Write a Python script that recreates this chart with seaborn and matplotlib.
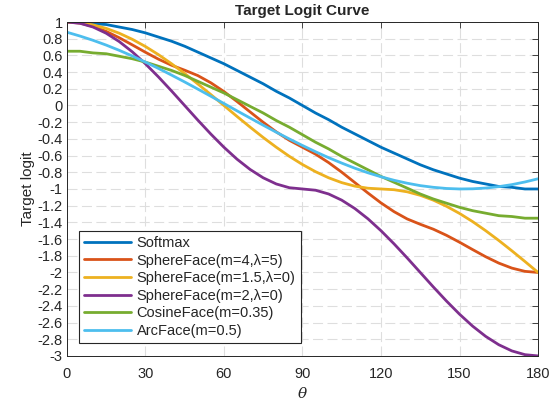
import seaborn as sns
import matplotlib.pyplot as plt
import pandas as pd
from matplotlib.ticker import MultipleLocator, FuncFormatter

theta = list(range(0, 181, 5))

softmax = [1.00, 1.00, 0.98, 0.97, 0.94, 0.91, 0.87, 0.82, 0.77, 0.71, 0.64, 0.57, 0.50,
           0.42, 0.34, 0.26, 0.17, 0.09, 0.00, -0.09, -0.17, -0.26, -0.34, -0.42, -0.50,
           -0.57, -0.64, -0.71, -0.77, -0.82, -0.87, -0.91, -0.94, -0.97, -0.98, -1.00, -1.00]
sphere_m4 = [1.00, 0.987, 0.948, 0.888, 0.812, 0.726, 0.638, 0.555, 0.482, 0.423, 0.359,
             0.272, 0.167, 0.048, -0.077, -0.201, -0.316, -0.417, -0.50, -0.583, -0.684,
             -0.799, -0.923, -1.048, -1.167, -1.272, -1.359, -1.423, -1.482, -1.555, -1.638,
             -1.726, -1.812, -1.888, -1.948, -1.987, -2.00]
sphere_m15 = [1.00, 0.991, 0.966, 0.924, 0.866, 0.793, 0.707, 0.609, 0.50, 0.383, 0.259,
              0.131, 0.00, -0.131, -0.259, -0.383, -0.50, -0.609, -0.707, -0.793, -0.866,
              -0.924, -0.966, -0.991, -1.00, -1.009, -1.034, -1.076, -1.134, -1.207, -1.293,
              -1.391, -1.50, -1.617, -1.741, -1.869, -2.00]
sphere_m2 = [1.00, 0.985, 0.94, 0.866, 0.766, 0.643, 0.50, 0.342, 0.174, 0.00, -0.174,
             -0.342, -0.50, -0.643, -0.766, -0.866, -0.94, -0.985, -1.00, -1.015, -1.06,
             -1.134, -1.234, -1.357, -1.50, -1.658, -1.826, -2.00, -2.174, -2.342, -2.50,
             -2.643, -2.766, -2.866, -2.94, -2.985, -3.00]
cosface = [0.65, 0.65, 0.63, 0.62, 0.59, 0.56, 0.52, 0.47, 0.42, 0.36, 0.29, 0.22, 0.15,
           0.07, -0.01, -0.09, -0.18, -0.26, -0.35, -0.44, -0.52, -0.61, -0.69, -0.77, -0.85,
           -0.92, -0.99, -1.06, -1.12, -1.17, -1.22, -1.26, -1.29, -1.32, -1.33, -1.35, -1.35]
arcface = [0.878, 0.832, 0.781, 0.724, 0.661, 0.593, 0.520, 0.444, 0.364, 0.282, 0.197,
           0.111, 0.024, -0.064, -0.150, -0.236, -0.320, -0.401, -0.479, -0.554, -0.625,
           -0.690, -0.751, -0.806, -0.854, -0.896, -0.931, -0.960, -0.980, -0.994, -1.00,
           -0.998, -0.989, -0.972, -0.948, -0.916, -0.878]

labels = ['Softmax', 'SphereFace(m=4,λ=5)', 'SphereFace(m=1.5,λ=0)',
          'SphereFace(m=2,λ=0)', 'CosineFace(m=0.35)', 'ArcFace(m=0.5)']
series = [softmax, sphere_m4, sphere_m15, sphere_m2, cosface, arcface]
colors = ['#0072BD', '#D95319', '#EDB120', '#7E2F8E', '#77AC30', '#4DBEEE']

rows = []
for lab, vals in zip(labels, series):
    for t, v in zip(theta, vals):
        rows.append({'theta': t, 'value': v, 'curve': lab})
df = pd.DataFrame(rows)

sns.set_style('white')
plt.rcParams['font.family'] = ['Liberation Sans', 'DejaVu Sans']
plt.rcParams['axes.unicode_minus'] = False

fig = plt.figure(figsize=(5.57, 4.04), dpi=100)
ax = fig.add_axes([0.120, 0.119, 0.846, 0.8265])
sns.lineplot(data=df, x='theta', y='value', hue='curve', hue_order=labels,
             palette=colors, linewidth=2, ax=ax)

ax.set_xlim(0, 180)
ax.set_ylim(-3, 1)
ax.xaxis.set_major_locator(MultipleLocator(30))
ax.yaxis.set_major_locator(MultipleLocator(0.2))
ax.yaxis.set_major_formatter(FuncFormatter(lambda v, p: '%g' % round(v, 1)))
ax.grid(True, linestyle=(0, (9, 4)), color='#dedede', linewidth=0.8)
ax.tick_params(direction='in', length=4, width=0.6, labelsize=10.5, color='#262626',
               labelcolor='#262626', top=True, right=True, pad=3)
ax.tick_params(axis='x', pad=8)
for s in ax.spines.values():
    s.set_color('#262626')
    s.set_linewidth(0.7)

ax.set_title('Target Logit Curve', fontsize=11, fontweight='bold', pad=5)
ax.set_xlabel('θ', fontsize=11, fontstyle='italic', family='DejaVu Serif', labelpad=4)
ax.set_ylabel('Target logit', fontsize=11, color='#262626', labelpad=2)

leg = ax.legend(loc='lower left', bbox_to_anchor=(0.026, 0.038), fontsize=10.5,
                frameon=True, fancybox=False, edgecolor='#262626', framealpha=1,
                handlelength=3.2, handletextpad=0.4, borderpad=0.35, labelspacing=0.25,
                borderaxespad=0)
leg.get_frame().set_linewidth(0.8)
for line in leg.get_lines():
    line.set_linewidth(2)

plt.savefig('out.png', dpi=100)
